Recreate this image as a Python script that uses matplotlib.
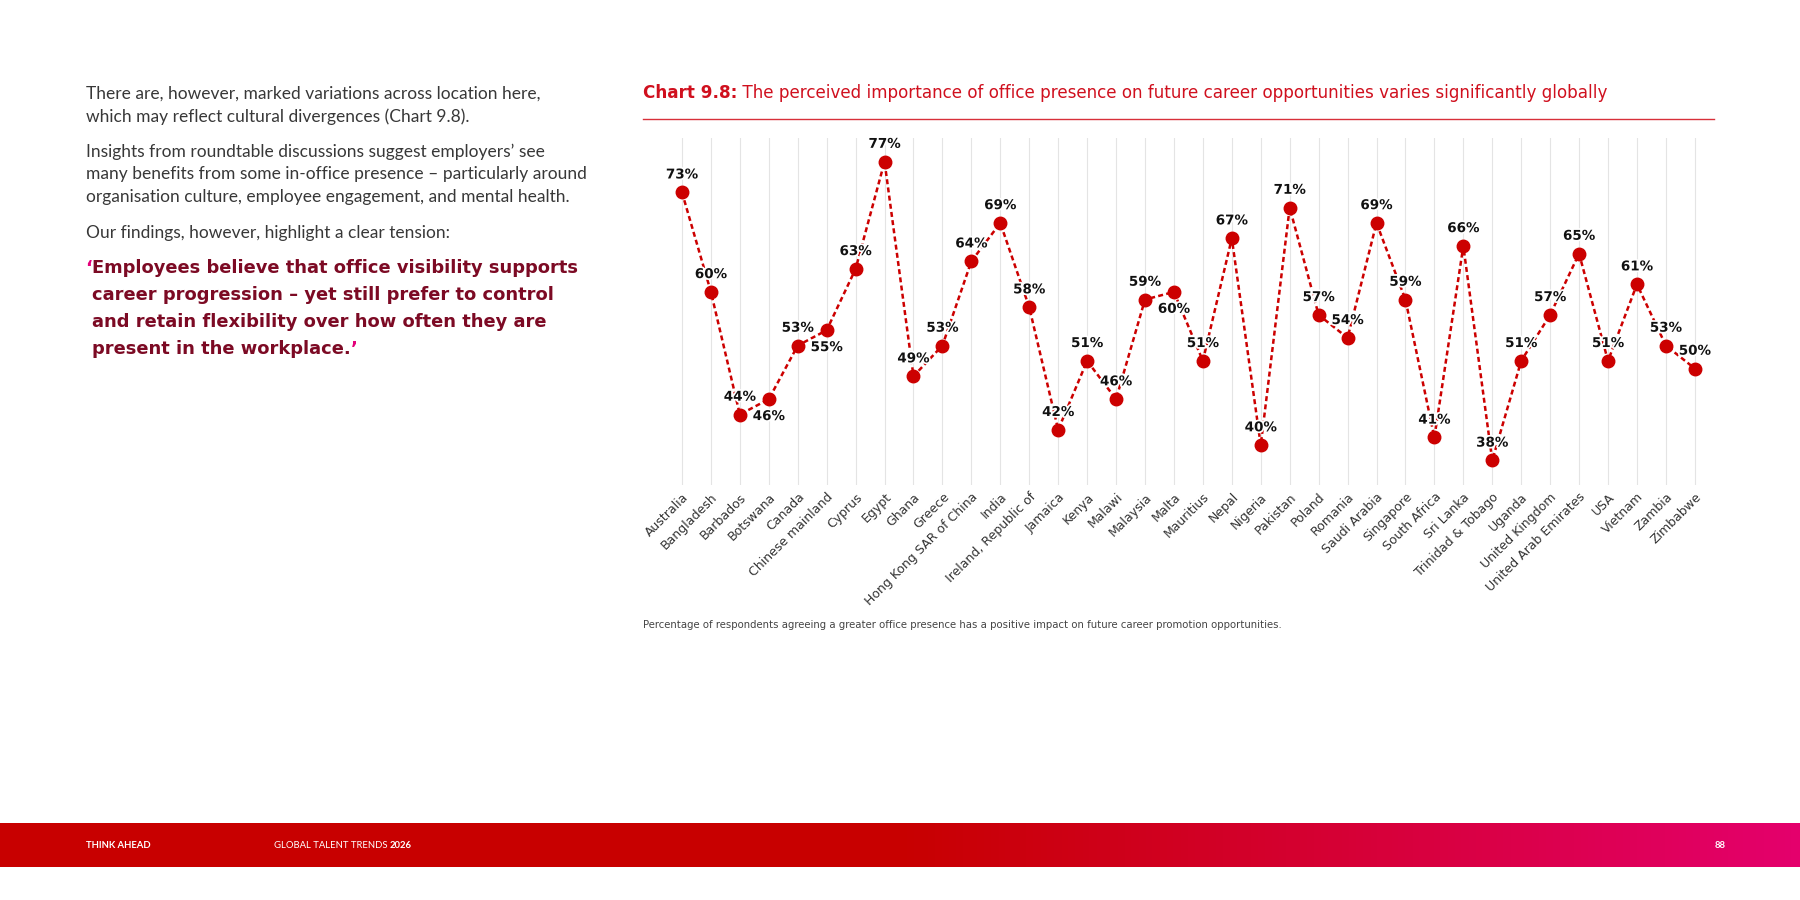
import numpy as np
import matplotlib.pyplot as plt
import matplotlib.patheffects as pe
from matplotlib.colors import LinearSegmentedColormap
from matplotlib.lines import Line2D

# chart data
countries = [
    "Australia", "Bangladesh", "Barbados", "Botswana", "Canada", "Chinese mainland",
    "Cyprus", "Egypt", "Ghana", "Greece", "Hong Kong SAR of China", "India",
    "Ireland, Republic of", "Jamaica", "Kenya", "Malawi", "Malaysia", "Malta",
    "Mauritius", "Nepal", "Nigeria", "Pakistan", "Poland", "Romania", "Saudi Arabia",
    "Singapore", "South Africa", "Sri Lanka", "Trinidad & Tobago", "Uganda",
    "United Kingdom", "United Arab Emirates", "USA", "Vietnam", "Zambia", "Zimbabwe",
]
values = [73, 60, 44, 46, 53, 55, 63, 77, 49, 53, 64, 69, 58, 42, 51, 46, 59, 60,
          51, 67, 40, 71, 57, 54, 69, 59, 41, 66, 38, 51, 57, 65, 51, 61, 53, 50]
labels_below = ["Botswana", "Chinese mainland", "Malta"]

title_bold = "Chart 9.8:"
title_rest = " The perceived importance of office presence on future career opportunities varies significantly globally"
caption = ("Percentage of respondents agreeing a greater office presence has a positive "
           "impact on future career promotion opportunities.")
body_lines = [
    ["There are, however, marked variations across location here,",
     "which may reflect cultural divergences (Chart 9.8)."],
    ["Insights from roundtable discussions suggest employers\u2019 see",
     "many benefits from some in-office presence \u2013 particularly around",
     "organisation culture, employee engagement, and mental health."],
    ["Our findings, however, highlight a clear tension:"],
]
quote_lines = [
    "Employees believe that office visibility supports",
    "career progression \u2013 yet still prefer to control",
    "and retain flexibility over how often they are",
    "present in the workplace.",
]

RED = "#CC0000"
TITLE_RED = "#D0101E"
MAROON = "#7C0A24"
PINK = "#E4007A"
W, H = 1800, 900

plt.rcParams["font.family"] = ["DejaVu Sans"]


def fx(x):
    return x / W


def fy(y):
    return 1 - y / H


fig = plt.figure(figsize=(18, 9), dpi=100)
fig.patch.set_facecolor("white")

# main chart
ax = fig.add_axes([fx(667.5), fy(485), 1041.8 / W, (485 - 138.3) / H])
x = np.arange(len(countries))
ax.plot(x, values, color=RED, lw=1.8, ls=(0, (2, 1.3)), zorder=3)
ax.plot(x, values, "o", ms=9, color=RED, zorder=4)
ax.set_xlim(-0.5, len(countries) - 0.5)
ax.set_ylim(34.8, 80.05)
ax.set_xticks(x)
ax.set_xticklabels(countries, rotation=45, ha="right", rotation_mode="anchor",
                   fontsize=9, color="#333333")
ax.tick_params(axis="x", length=0, pad=4)
ax.set_yticks([])
ax.grid(axis="x", color="#e4e4e4", lw=0.8, zorder=0)
for s in ax.spines.values():
    s.set_visible(False)

for c, xi, v in zip(countries, x, values):
    dy = -12.5 if c in labels_below else 12.5
    ax.annotate(f"{v}%", (xi, v), xytext=(0, dy), textcoords="offset points",
                ha="center", va="center", fontsize=9.7, fontweight="bold",
                color="#111111", zorder=5,
                path_effects=[pe.withStroke(linewidth=2.5, foreground="white")])

# title with bold prefix
renderer = fig.canvas.get_renderer()
t1 = fig.text(fx(643), fy(93), title_bold, fontsize=12.1, fontweight="bold",
              color=TITLE_RED, va="center")
bb = t1.get_window_extent(renderer)
fig.text(bb.x1 / W, fy(93), title_rest, fontsize=12.1, color=TITLE_RED, va="center")
fig.add_artist(Line2D([fx(643), fx(1714)], [fy(119), fy(119)], color="#D8303A", lw=1.0))

fig.text(fx(643), fy(625), caption, fontsize=7.25, color="#444444", va="center")

# left text
ys = [[94, 116.7], [151.7, 174.3, 196.7], [233.3]]
for para, py in zip(body_lines, ys):
    for line, yy in zip(para, py):
        fig.text(fx(86), fy(yy), line, fontsize=12.5, color="#383838",
                 family=["Lato", "DejaVu Sans"], va="center")

q_ys = [268.3, 295, 322.3, 349]
fig.text(fx(85), fy(q_ys[0]), "\u2018", fontsize=12.9, fontweight="bold", color=PINK, va="center")
last = None
for line, yy in zip(quote_lines, q_ys):
    last = fig.text(fx(92), fy(yy), line, fontsize=12.9, fontweight="bold",
                    color=MAROON, va="center")
bb = last.get_window_extent(renderer)
fig.text(bb.x1 / W, fy(q_ys[-1]), "\u2019", fontsize=12.9, fontweight="bold",
         color=PINK, va="center")

# footer band
bar = fig.add_axes([0, fy(867), 1, 44 / H])
cmap = LinearSegmentedColormap.from_list(
    "band", [(0, "#C80000"), (0.5, "#C80000"), (1, "#E4006C")])
bar.imshow(np.linspace(0, 1, 600)[None, :], aspect="auto", cmap=cmap,
           extent=[0, 1, 0, 1])
bar.set_axis_off()

foot = dict(fontsize=6.8, color="white", va="center", family=["Lato", "DejaVu Sans"])
fig.text(fx(86), fy(845.5), "THINK AHEAD", fontweight="bold", **foot)
t2 = fig.text(fx(274), fy(845.5), "GLOBAL TALENT TRENDS ", **foot)
bb = t2.get_window_extent(renderer)
fig.text(bb.x1 / W, fy(845.5), "2026", fontweight="bold", **foot)
fig.text(fx(1720), fy(845.5), "88", fontweight="bold", ha="center", **foot)

fig.savefig("out.png", dpi=100)
